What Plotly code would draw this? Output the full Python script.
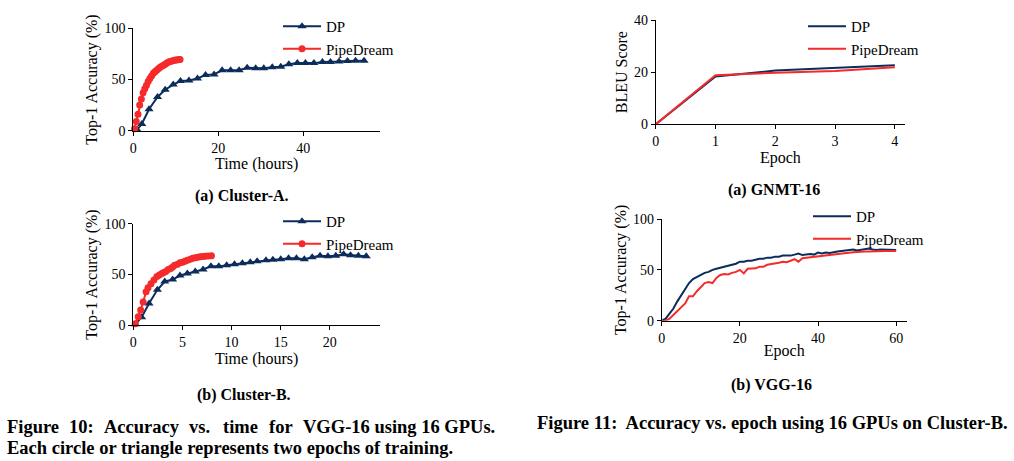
import plotly.graph_objects as go

W, H = 1014, 461

# (a) Cluster-A, accuracy vs time (hours), one marker = two epochs
dp_a_hours = [0.9, 2.0, 3.7, 5.7, 7.5, 9.4, 11.1, 13.1, 15.1, 17.0, 19.0, 20.9, 22.9, 24.9, 26.8,
              28.8, 30.7, 32.7, 34.7, 36.6, 38.6, 40.5, 42.5, 44.5, 46.4, 48.4, 50.4, 52.3, 54.3]
dp_a_acc = [1, 6.5, 21, 33, 40, 45, 48.5, 49, 51, 54.5, 55, 59, 59, 59, 61.5,
            61, 61, 62, 62.5, 65, 66, 66, 66, 67, 67, 67.5, 68, 68.3, 68.3]
pd_a_hours = [0.3, 0.7, 1.1, 1.5, 1.9, 2.3, 2.7, 3.1, 3.5, 3.9, 4.3, 4.7, 5.1, 5.5,
              5.9, 6.3, 6.7, 7.1, 7.5, 7.9, 8.3, 8.7, 9.1, 9.5, 9.9, 10.3, 10.7, 11.0]
pd_a_acc = [2, 9, 16, 25, 31, 37, 41, 44.5, 48, 51, 53.5, 56, 57.5, 59,
            60.5, 62, 63, 64, 65, 66, 67, 67.5, 68, 68.5, 69, 69, 69.5, 69.5]

# (b) Cluster-B
dp_b_hours = [0.2, 0.85, 1.6, 2.45, 3.2, 4.0, 4.75, 5.5, 6.3, 7.1, 7.9, 8.7, 9.5, 10.3, 11.1, 11.9,
              12.6, 13.5, 14.2, 15.0, 15.8, 16.6, 17.4, 18.2, 19.0, 19.8, 20.6, 21.4, 22.1, 22.9, 23.7]
dp_b_acc = [1, 8, 21.5, 35, 43, 45, 49, 51, 53, 55, 58, 58, 59, 60, 61, 62,
            63, 64, 64.5, 65, 66, 66, 65, 67, 68.5, 68, 68.5, 70, 69, 68.5, 68]
pd_b_hours = [0.2, 0.5, 0.75, 1.0, 1.3, 1.5, 1.8, 2.1, 2.4, 2.65, 2.9, 3.1, 3.3, 3.55, 3.8, 4.0,
              4.2, 4.5, 4.75, 5.0, 5.25, 5.5, 5.8, 6.05, 6.3, 6.55, 6.8, 7.05, 7.3, 7.6, 7.95]
pd_b_acc = [1.5, 8.5, 15, 23, 33, 37, 41, 44.5, 48, 49.5, 51, 52, 53, 55, 56, 57.5,
            59, 60, 61.5, 62, 63, 64, 65, 66, 66.5, 67, 67.5, 67.8, 68, 68.3, 68.5]

# Fig 11 (a) GNMT-16, BLEU per epoch
gnmt_epoch = [0, 1, 2, 3, 4]
gnmt_dp = [0, 18.3, 20.6, 21.5, 22.6]
gnmt_pd = [0, 18.8, 19.8, 20.4, 21.9]

# Fig 11 (b) VGG-16, top-1 accuracy per epoch
vgg_epoch = list(range(61))
vgg_dp = [0, 2, 7, 12, 19, 25, 31, 37, 41, 43,
          45, 47, 48, 50, 51, 52, 53, 54, 55, 56,
          58, 58, 59, 59, 60, 61, 61, 62, 62, 63,
          63, 64, 64, 64, 65, 66, 64.5, 65, 65.5, 65,
          67, 66, 67, 66.5, 67.5, 68, 68.5, 69, 69, 70,
          69, 69.5, 70, 71, 70, 69.5, 70, 70, 69.5, 69.5, 69.5]
vgg_pd = [0, 0, 2, 6, 10, 13, 17, 24, 24, 29,
          33, 37, 38, 37, 42, 45, 46, 45.5, 47, 48,
          50, 46.5, 51, 51, 51.5, 53, 53, 55, 55.5, 56.5,
          57, 58, 57.5, 59, 60.5, 58, 61.5, 62, 62.5, 63,
          63.5, 64, 64.5, 65, 65.5, 66, 66.5, 67, 67, 67.3,
          67.5, 68, 68, 68, 68.3, 68.5, 68.5, 68.6, 68.6, 68.6, 68.6]

DP_COLOR = "#0c2c5c"
PD_COLOR = "#f52a2a"
SERIF = "Liberation Serif"


def fx(px):
    return px / W


def fy(py):
    return 1 - py / H


fig = go.Figure()

# figure 10 panels (with markers)
fig.add_trace(go.Scatter(x=dp_a_hours, y=dp_a_acc, name="DP", mode="lines+markers",
                         line=dict(color=DP_COLOR, width=2),
                         marker=dict(symbol="triangle-up", size=8, color=DP_COLOR),
                         xaxis="x", yaxis="y", legend="legend", cliponaxis=False))
fig.add_trace(go.Scatter(x=pd_a_hours, y=pd_a_acc, name="PipeDream", mode="lines+markers",
                         line=dict(color=PD_COLOR, width=2),
                         marker=dict(symbol="circle", size=7, color=PD_COLOR),
                         xaxis="x", yaxis="y", legend="legend", cliponaxis=False))
fig.add_trace(go.Scatter(x=dp_b_hours, y=dp_b_acc, name="DP", mode="lines+markers",
                         line=dict(color=DP_COLOR, width=2),
                         marker=dict(symbol="triangle-up", size=8, color=DP_COLOR),
                         xaxis="x2", yaxis="y2", legend="legend2", cliponaxis=False))
fig.add_trace(go.Scatter(x=pd_b_hours, y=pd_b_acc, name="PipeDream", mode="lines+markers",
                         line=dict(color=PD_COLOR, width=2),
                         marker=dict(symbol="circle", size=7, color=PD_COLOR),
                         xaxis="x2", yaxis="y2", legend="legend2", cliponaxis=False))

# figure 11 panels (lines only)
fig.add_trace(go.Scatter(x=gnmt_epoch, y=gnmt_dp, name="DP", mode="lines",
                         line=dict(color=DP_COLOR, width=2),
                         xaxis="x3", yaxis="y3", legend="legend3"))
fig.add_trace(go.Scatter(x=gnmt_epoch, y=gnmt_pd, name="PipeDream", mode="lines",
                         line=dict(color=PD_COLOR, width=2),
                         xaxis="x3", yaxis="y3", legend="legend3"))
fig.add_trace(go.Scatter(x=vgg_epoch, y=vgg_dp, name="DP", mode="lines",
                         line=dict(color=DP_COLOR, width=2),
                         xaxis="x4", yaxis="y4", legend="legend4"))
fig.add_trace(go.Scatter(x=vgg_epoch, y=vgg_pd, name="PipeDream", mode="lines",
                         line=dict(color=PD_COLOR, width=2),
                         xaxis="x4", yaxis="y4", legend="legend4"))


def xax(left, right, rng, tickvals, title, anchor):
    return dict(domain=[fx(left), fx(right)], range=rng, anchor=anchor,
                tickvals=tickvals, showline=True, linecolor="black", linewidth=1,
                ticks="outside", ticklen=4, tickcolor="black", showgrid=False, zeroline=False,
                tickfont=dict(family=SERIF, size=14, color="black"),
                title=dict(text=title, font=dict(family=SERIF, size=16, color="black"), standoff=0))


def yax(top, bottom, rng, tickvals, title, anchor):
    return dict(domain=[fy(bottom), fy(top)], range=rng, anchor=anchor,
                tickvals=tickvals, showline=True, linecolor="black", linewidth=1,
                ticks="outside", ticklen=4, tickcolor="black", showgrid=False, zeroline=False,
                tickfont=dict(family=SERIF, size=14, color="black"),
                title=dict(text=title, font=dict(family=SERIF, size=16, color="black"), standoff=2))


def leg(left, top):
    return dict(x=fx(left), y=fy(top), xanchor="left", yanchor="top",
                bgcolor="rgba(0,0,0,0)", font=dict(family=SERIF, size=15, color="black"),
                itemwidth=38, tracegroupgap=0)


acc_title = "Top-1 Accuracy (%)"
fig.update_layout(
    width=W, height=H,
    margin=dict(l=0, r=0, t=0, b=0, autoexpand=False),
    paper_bgcolor="white", plot_bgcolor="white",
    xaxis=xax(133.3, 380, [0, 58.05], [0, 20, 40], "Time (hours)", "y"),
    yaxis=yax(28.3, 130.7, [0, 100], [0, 50, 100], acc_title, "x"),
    xaxis2=xax(133.3, 380, [0, 25.1], [0, 5, 10, 15, 20], "Time (hours)", "y2"),
    yaxis2=yax(223.7, 325.3, [0, 100], [0, 50, 100], acc_title, "x2"),
    xaxis3=xax(655.7, 905, [0, 4.17], [0, 1, 2, 3, 4], "Epoch", "y3"),
    yaxis3=yax(20, 124.3, [0, 40], [0, 20, 40], "BLEU Score", "x3"),
    xaxis4=xax(661.7, 906.7, [0, 62.7], [0, 20, 40, 60], "Epoch", "y4"),
    yaxis4=yax(219, 320.7, [0, 100], [0, 50, 100], acc_title, "x4"),
    legend=leg(278, 10),
    legend2=leg(278, 205),
    legend3=leg(803, 10),
    legend4=leg(808, 200),
    showlegend=True,
)


def note(text, xpos, ypos, size, anchor="center"):
    fig.add_annotation(text=text, x=fx(xpos), y=fy(ypos), xref="paper", yref="paper",
                       xanchor=anchor, yanchor="middle", showarrow=False,
                       font=dict(family=SERIF, size=size, color="black"))


note("<b>(a) Cluster-A.</b>", 242, 196, 16)
note("<b>(b) Cluster-B.</b>", 244, 395, 16)
note("<b>(a) GNMT-16</b>", 774, 190, 16)
note("<b>(b) VGG-16</b>", 771, 385, 16)

# figure captions; first line of figure 10 is justified to the column width
for word, xpos in [("Figure", 5), ("10:", 67), ("Accuracy", 102), ("vs.", 187), ("time", 221),
                   ("for", 267)]:
    note("<b>" + word + "</b>", xpos, 427, 18.5, "left")
note("<b>VGG-16 using 16 GPUs.</b>", 497, 427, 18.5, "right")
note("<b>Each circle or triangle represents two epochs of training.</b>", 5, 448, 18.5, "left")
note("<b>Figure 11:  Accuracy vs. epoch using 16 GPUs on Cluster-B.</b>", 772, 423, 18.5)

fig.write_html("out.html", config={"displayModeBar": False},
               post_script="document.body.style.margin='0px';")
